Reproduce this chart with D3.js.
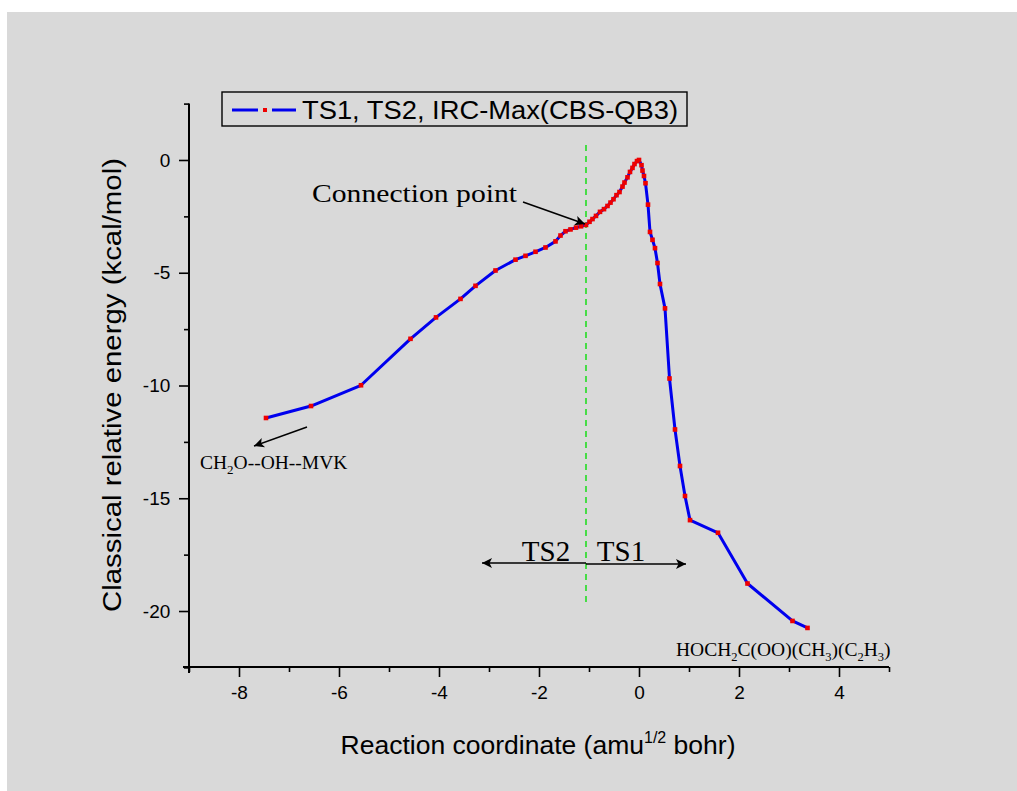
<!DOCTYPE html>
<html><head><meta charset="utf-8">
<script src="https://cdn.jsdelivr.net/npm/d3@7"></script>
<style>
html,body{margin:0;padding:0;background:#fff;}
svg{display:block;}
</style></head>
<body>
<svg id="chart" width="1017" height="791"></svg>
<script>
// IRC data (reaction coordinate, amu^1/2 bohr ; energy, kcal/mol)
const xs = [-7.46,-6.56,-5.56,-4.57,-4.06,-3.57,-3.27,-2.87,-2.47,-2.27,-2.07,-1.87,-1.67,-1.57,-1.47,-1.37,-1.26,-1.16,-1.06,
  -0.99,-0.93,-0.86,-0.78,-0.70,-0.63,-0.57,-0.51,-0.45,-0.39,-0.33,-0.29,-0.23,-0.18,-0.13,-0.09,-0.04,0.0,
  0.05,0.07,0.10,0.13,0.18,0.22,0.27,0.32,0.37,0.42,0.52,0.61,0.72,0.82,0.92,1.02,1.58,2.17,3.07,3.37];
const ys = [-11.44,-10.91,-9.99,-7.93,-6.98,-6.16,-5.58,-4.90,-4.42,-4.25,-4.07,-3.88,-3.61,-3.35,-3.16,-3.08,-3.00,-2.94,-2.88,
  -2.74,-2.62,-2.48,-2.30,-2.18,-2.04,-1.89,-1.74,-1.56,-1.42,-1.18,-1.00,-0.77,-0.53,-0.35,-0.18,-0.05,0.0,
  -0.23,-0.47,-0.71,-1.03,-1.98,-3.19,-3.54,-3.91,-4.57,-5.50,-6.58,-9.69,-11.95,-13.57,-14.90,-15.97,-16.53,-18.78,-20.44,-20.75];
const xTicks = [-8,-6,-4,-2,0,2,4];
const xMinor = [-9,-7,-5,-3,-1,1,3,5];
const yTicks = [0,-5,-10,-15,-20];
const yMinor = [2.5,-2.5,-7.5,-12.5,-17.5,-22.5];
const connectionX = -1.06;
const legendLabel = "TS1, TS2, IRC-Max(CBS-QB3)";

const svg = d3.select("#chart");
svg.append("rect").attr("x",7).attr("y",12).attr("width",1010).attr("height",779).attr("fill","#d9d9d9");

const x = d3.scaleLinear().domain([-9,5]).range([189,889]);
const y = d3.scaleLinear().domain([-22.5,2.5]).range([667.4,103.6]);
const sans = "'Liberation Sans', Arial, sans-serif";
const serif = "'Liberation Serif', 'Times New Roman', serif";

// axes
const gx = svg.append("g").attr("transform","translate(0,667)");
gx.call(d3.axisBottom(x).tickValues(xTicks).tickSize(10).tickFormat(d3.format("d")));
const gxm = svg.append("g").attr("transform","translate(0,667)");
gxm.call(d3.axisBottom(x).tickValues(xMinor).tickSize(5).tickFormat(""));
const gy = svg.append("g").attr("transform","translate(189,0)");
gy.call(d3.axisLeft(y).tickValues(yTicks).tickSize(10).tickFormat(d3.format("d")));
const gym = svg.append("g").attr("transform","translate(189,0)");
gym.call(d3.axisLeft(y).tickValues(yMinor).tickSize(5).tickFormat(""));
[gx,gxm,gy,gym].forEach(g=>{
  g.select(".domain").remove();
  g.selectAll("line").attr("stroke","#000").attr("stroke-width",1.6);
  g.selectAll("text").attr("font-family",sans).attr("font-size",19).attr("fill","#000");
});
gx.selectAll("text").attr("dy","1.0em").text(d=>d<0?"-"+Math.abs(d):d);
gy.selectAll("text").attr("dx","-0.3em").text(d=>d<0?"-"+Math.abs(d):d);
svg.append("line").attr("x1",183).attr("x2",889).attr("y1",667).attr("y2",667).attr("stroke","#000").attr("stroke-width",2);
svg.append("line").attr("x1",189).attr("x2",189).attr("y1",103.6).attr("y2",673).attr("stroke","#000").attr("stroke-width",2);

// axis titles
const xt = svg.append("text").attr("x",538).attr("y",754).attr("text-anchor","middle")
  .attr("font-family",sans).attr("font-size",26.5).attr("fill","#000");
xt.append("tspan").text("Reaction coordinate (amu");
xt.append("tspan").attr("font-size",16).attr("dy",-11).text("1/2");
xt.append("tspan").attr("dy",11).text(" bohr)");
svg.append("text").attr("transform","translate(121,385) rotate(-90)").attr("text-anchor","middle")
  .attr("font-family",sans).attr("font-size",25).attr("fill","#000")
  .attr("textLength",454).attr("lengthAdjust","spacingAndGlyphs")
  .text("Classical relative energy (kcal/mol)");

// connection dashed line
svg.append("line").attr("x1",x(connectionX)).attr("x2",x(connectionX)).attr("y1",145).attr("y2",603)
  .attr("stroke","#22dd22").attr("stroke-width",1.6).attr("stroke-dasharray","6,5");

// data line
const pts = xs.map((v,i)=>[v,ys[i]]);
svg.append("path").datum(pts).attr("d",d3.line().x(d=>x(d[0])).y(d=>y(d[1])))
  .attr("fill","none").attr("stroke","#0000ee").attr("stroke-width",3).attr("stroke-linejoin","round");
svg.selectAll("rect.pt").data(pts).enter().append("rect").attr("class","pt")
  .attr("x",d=>x(d[0])-2.3).attr("y",d=>y(d[1])-2.3).attr("width",4.6).attr("height",4.6).attr("fill","#ee0000");

// arrow markers
const defs = svg.append("defs");
defs.append("marker").attr("id","ah").attr("viewBox","0 0 10 10").attr("refX",10).attr("refY",5)
  .attr("markerWidth",20).attr("markerHeight",10).attr("markerUnits","userSpaceOnUse").attr("orient","auto")
  .append("path").attr("d","M0,0 L10,5 L0,10 L2.5,5 Z").attr("fill","#000");

function arrow(x1,y1,x2,y2){
  svg.append("line").attr("x1",x1).attr("y1",y1).attr("x2",x2).attr("y2",y2)
    .attr("stroke","#000").attr("stroke-width",1.6).attr("marker-end","url(#ah)");
}
// Connection point
svg.append("text").attr("x",312).attr("y",202).attr("font-family",serif).attr("font-size",26).attr("fill","#000")
  .attr("textLength",205).attr("lengthAdjust","spacingAndGlyphs").text("Connection point");
arrow(523,202,585,224);
// CH2O--OH--MVK
arrow(307,427,254,446);
const t1 = svg.append("text").attr("x",200).attr("y",469).attr("font-family",serif).attr("font-size",19.5).attr("fill","#000");
t1.append("tspan").text("CH");
t1.append("tspan").attr("font-size",13).attr("dy",5).text("2");
t1.append("tspan").attr("dy",-5).text("O--OH--MVK");
// TS2 / TS1
arrow(586,563,482,563);
arrow(586,564,686,564);
svg.append("text").attr("x",546).attr("y",561).attr("text-anchor","middle").attr("font-family",serif).attr("font-size",29).attr("fill","#000").text("TS2");
svg.append("text").attr("x",621).attr("y",561).attr("text-anchor","middle").attr("font-family",serif).attr("font-size",29).attr("fill","#000").text("TS1");
// product label
const t2 = svg.append("text").attr("x",676).attr("y",656).attr("font-family",serif).attr("font-size",19.5).attr("fill","#000");
[["HOCH",0],["2",1],["C(OO)(CH",0],["3",1],[")(C",0],["2",1],["H",0],["3",1],[")",0]].forEach(([s,sub],i,arr)=>{
  const prevSub = i>0 && arr[i-1][1];
  const dy = sub ? 5 : (prevSub ? -5 : 0);
  t2.append("tspan").attr("font-size",sub?12.5:19.5).attr("dy",dy).text(s);
});

// legend
svg.append("rect").attr("x",222).attr("y",92).attr("width",465).attr("height",34).attr("fill","none").attr("stroke","#000").attr("stroke-width",1.4);
svg.append("line").attr("x1",232).attr("x2",258).attr("y1",110).attr("y2",110).attr("stroke","#0000ee").attr("stroke-width",3);
svg.append("line").attr("x1",272).attr("x2",296).attr("y1",110).attr("y2",110).attr("stroke","#0000ee").attr("stroke-width",3);
svg.append("rect").attr("x",263).attr("y",108).attr("width",4).attr("height",4).attr("fill","#ee0000");
svg.append("text").attr("x",302).attr("y",119).attr("font-family",sans).attr("font-size",25).attr("fill","#000")
  .attr("textLength",376).attr("lengthAdjust","spacingAndGlyphs").text(legendLabel);
</script>
</body></html>
